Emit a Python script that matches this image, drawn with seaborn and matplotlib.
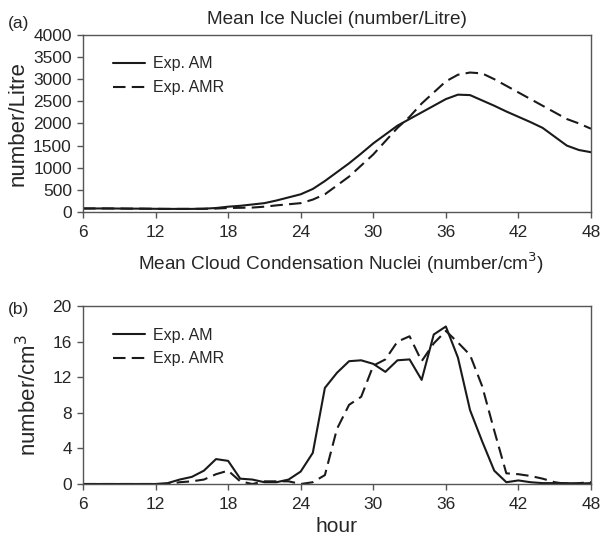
import numpy as np
import pandas as pd
import seaborn as sns
import matplotlib.pyplot as plt

hours = list(range(6, 49))

# Mean ice nuclei (number/Litre)
in_am = [80, 80, 80, 78, 76, 75, 72, 70, 70, 70, 75, 90, 120, 140, 170, 200, 260, 330, 400, 520, 700,
         900, 1100, 1320, 1550, 1750, 1950, 2100, 2250, 2400, 2550, 2650, 2640, 2520, 2400, 2270, 2150,
         2030, 1900, 1700, 1500, 1400, 1350]
in_amr = [80, 80, 80, 78, 76, 75, 72, 70, 70, 70, 72, 78, 90, 95, 100, 120, 150, 175, 200, 280, 400,
          600, 800, 1050, 1300, 1600, 1900, 2150, 2450, 2700, 2950, 3100, 3150, 3130, 3000, 2850, 2700,
          2550, 2400, 2250, 2100, 2000, 1880]

# Mean cloud condensation nuclei (number/cm3)
ccn_am = [0, 0, 0, 0, 0, 0, 0, 0.1, 0.5, 0.8, 1.5, 2.8, 2.6, 0.6, 0.5, 0.2, 0.2, 0.5, 1.4, 3.5, 10.8,
          12.5, 13.8, 13.9, 13.5, 12.6, 13.9, 14.0, 11.7, 16.8, 17.7, 14.2, 8.3, 4.8, 1.5, 0.2, 0.4,
          0.2, 0.1, 0.1, 0.1, 0.05, 0.1]
ccn_amr = [0, 0, 0, 0, 0, 0, 0, 0, 0.2, 0.3, 0.5, 1.1, 1.5, 0.3, 0.0, 0.3, 0.3, 0.3, 0.0, 0.2, 1.0,
           6.2, 8.9, 9.8, 13.3, 14.0, 16.0, 16.6, 13.8, 15.8, 17.2, 15.9, 14.5, 11.0, 6.0, 1.2, 1.1,
           0.9, 0.6, 0.2, 0.0, 0.1, 0.2]

labels = ["Exp. AM", "Exp. AMR"]
xticks = [6, 12, 18, 24, 30, 36, 42, 48]


def long_df(a, b):
    return pd.DataFrame({
        "hour": hours * 2,
        "value": a + b,
        "exp": [labels[0]] * len(hours) + [labels[1]] * len(hours),
    })


sns.set_theme(style="white")
plt.rcParams["font.family"] = ["Liberation Sans", "DejaVu Sans"]

fig = plt.figure(figsize=(6.03, 5.40), dpi=100)
ax1 = fig.add_axes([0.1376, 0.6074, 0.8425, 0.328])
ax2 = fig.add_axes([0.1376, 0.1037, 0.8425, 0.3296])

dashes = {labels[0]: "", labels[1]: (6, 3)}
for ax, df in [(ax1, long_df(in_am, in_amr)), (ax2, long_df(ccn_am, ccn_amr))]:
    sns.lineplot(data=df, x="hour", y="value", style="exp", dashes=dashes,
                 color="#1a1a1a", linewidth=1.5, ax=ax)
    ax.set_xlim(6, 48)
    ax.set_xticks(xticks)
    for s in ax.spines.values():
        s.set_color("#555555")
        s.set_linewidth(1.0)
    ax.tick_params(axis="both", which="both", length=4, width=1, color="#555555",
                   labelsize=12.5, direction="out", bottom=True, left=True, pad=4)
    ax.tick_params(axis="x", pad=5)
    leg = ax.legend(frameon=False, fontsize=11.5, loc="upper left",
                    bbox_to_anchor=(0.03, 0.96), handlelength=2.0, handletextpad=0.5,
                    labelspacing=0.55)
    for line in leg.get_lines():
        line.set_linewidth(1.5)

ax1.set_ylim(0, 4000)
ax1.set_yticks(range(0, 4001, 500))
ax1.set_xlabel("")
ax1.set_ylabel("number/Litre", fontsize=16, labelpad=3)
ax1.set_title("Mean Ice Nuclei (number/Litre)", fontsize=13.7, pad=8)

ax2.set_ylim(0, 20)
ax2.set_yticks(range(0, 21, 4))
ax2.set_xlabel("hour", fontsize=15, labelpad=4)
ax2.set_ylabel("number/cm$^3$", fontsize=16, labelpad=8)

fig.text(0.565, 0.513, "Mean Cloud Condensation Nuclei (number/cm$^3$)", ha="center",
         va="center", fontsize=13.7)
fig.text(0.013, 0.957, "(a)", fontsize=12.5, va="center")
fig.text(0.013, 0.426, "(b)", fontsize=12.5, va="center")

fig.savefig("out.png", dpi=100)
